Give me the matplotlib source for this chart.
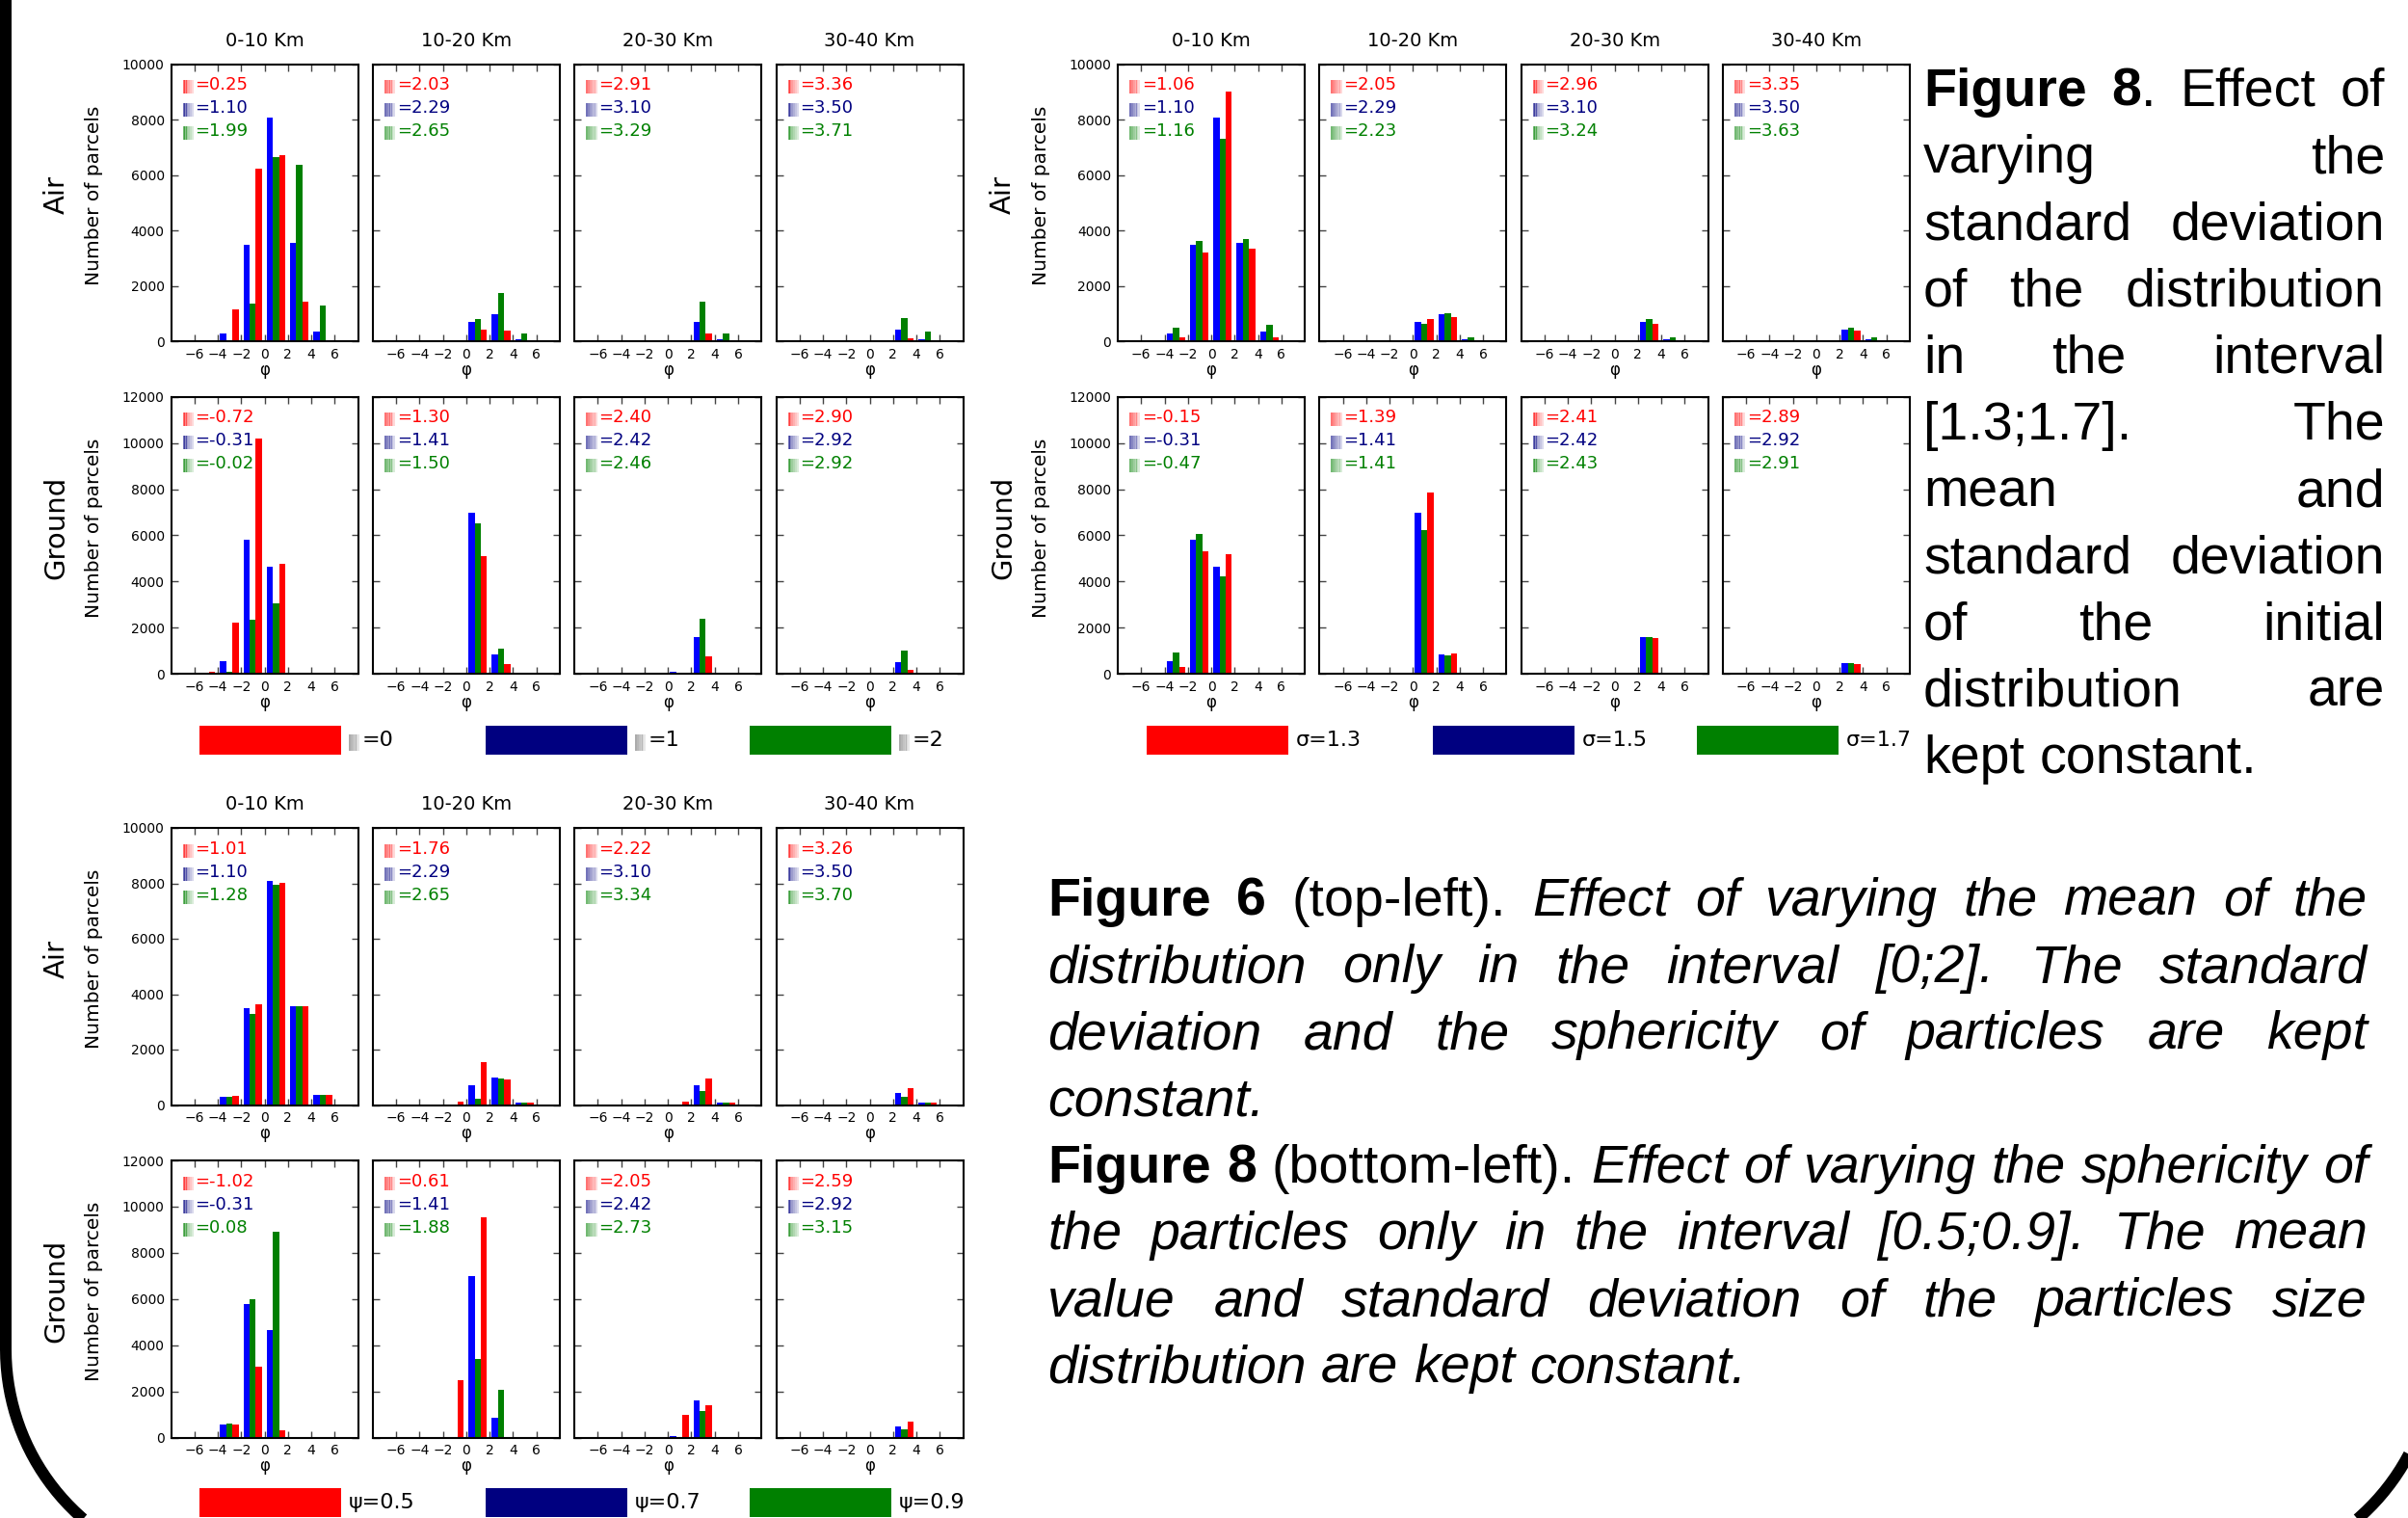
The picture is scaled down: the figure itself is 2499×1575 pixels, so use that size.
import numpy as np
import matplotlib
matplotlib.use("Agg")
import matplotlib.pyplot as plt
from matplotlib.patches import Rectangle, PathPatch
from matplotlib.path import Path
from matplotlib.transforms import IdentityTransform

W, H = 2499, 1575

phi_bins = [-6, -4, -2, 0, 2, 4, 6]
ranges = ["0-10 Km", "10-20 Km", "20-30 Km", "30-40 Km"]

# ---- varying mean (top-left) ----
mu_air_red = [[50, 1150, 6250, 6730, 1440, 40, 0], [0, 0, 0, 430, 400, 20, 0],
              [0, 0, 0, 0, 290, 0, 0], [0, 0, 0, 0, 115, 0, 0]]
mu_air_blue = [[0, 290, 3500, 8090, 3560, 360, 0], [0, 0, 0, 720, 990, 80, 0],
               [0, 0, 0, 0, 720, 80, 0], [0, 0, 0, 0, 440, 80, 0]]
mu_air_green = [[0, 30, 1370, 6660, 6380, 1300, 50], [0, 0, 0, 800, 1730, 290, 0],
                [0, 0, 0, 0, 1450, 290, 0], [0, 0, 0, 0, 850, 340, 0]]
mu_gnd_red = [[110, 2200, 10190, 4780, 0, 0, 0], [0, 0, 0, 5100, 445, 0, 0],
              [0, 0, 0, 0, 740, 0, 0], [0, 0, 0, 0, 195, 0, 0]]
mu_gnd_blue = [[0, 570, 5790, 4660, 0, 0, 0], [0, 0, 0, 6980, 850, 0, 0],
               [0, 0, 0, 80, 1600, 0, 0], [0, 0, 0, 0, 490, 0, 0]]
mu_gnd_green = [[0, 110, 2350, 3060, 0, 0, 0], [0, 0, 0, 6540, 1110, 0, 0],
                [0, 0, 0, 55, 2390, 0, 0], [0, 0, 0, 0, 990, 0, 0]]
mu_air_means = [["0.25", "1.10", "1.99"], ["2.03", "2.29", "2.65"],
                ["2.91", "3.10", "3.29"], ["3.36", "3.50", "3.71"]]
mu_gnd_means = [["-0.72", "-0.31", "-0.02"], ["1.30", "1.41", "1.50"],
                ["2.40", "2.42", "2.46"], ["2.90", "2.92", "2.92"]]
mu_labels = ["=0", "=1", "=2"]

# ---- varying sigma (top-right) ----
sd_air_red = [[0, 160, 3210, 9030, 3330, 150, 0], [0, 0, 0, 810, 880, 40, 0],
              [0, 0, 0, 0, 640, 40, 0], [0, 0, 0, 0, 400, 40, 0]]
sd_air_blue = [[0, 290, 3490, 8090, 3550, 360, 0], [0, 0, 0, 710, 990, 80, 0],
               [0, 0, 0, 0, 710, 80, 0], [0, 0, 0, 0, 430, 80, 0]]
sd_air_green = [[0, 500, 3630, 7300, 3690, 600, 0], [0, 0, 0, 640, 1030, 130, 0],
                [0, 0, 0, 0, 790, 160, 0], [0, 0, 0, 0, 480, 160, 0]]
sd_gnd_red = [[0, 280, 5330, 5200, 0, 0, 0], [0, 0, 0, 7870, 900, 0, 0],
              [0, 0, 0, 55, 1560, 0, 0], [0, 0, 0, 0, 430, 0, 0]]
sd_gnd_blue = [[0, 570, 5790, 4660, 0, 0, 0], [0, 0, 0, 6980, 860, 0, 0],
               [0, 0, 0, 70, 1600, 0, 0], [0, 0, 0, 0, 470, 0, 0]]
sd_gnd_green = [[0, 945, 6040, 4240, 0, 0, 0], [0, 0, 0, 6230, 810, 0, 0],
                [0, 0, 0, 70, 1600, 0, 0], [0, 0, 0, 0, 470, 0, 0]]
sd_air_means = [["1.06", "1.10", "1.16"], ["2.05", "2.29", "2.23"],
                ["2.96", "3.10", "3.24"], ["3.35", "3.50", "3.63"]]
sd_gnd_means = [["-0.15", "-0.31", "-0.47"], ["1.39", "1.41", "1.41"],
                ["2.41", "2.42", "2.43"], ["2.89", "2.92", "2.91"]]
sd_labels = ["σ=1.3", "σ=1.5", "σ=1.7"]

# ---- varying sphericity (bottom-left) ----
ps_air_red = [[0, 340, 3640, 8020, 3570, 370, 0], [0, 0, 130, 1550, 930, 90, 0],
              [0, 0, 0, 130, 960, 90, 0], [0, 0, 0, 0, 610, 90, 0]]
ps_air_blue = [[0, 300, 3510, 8090, 3570, 370, 0], [0, 0, 0, 720, 1000, 90, 0],
               [0, 0, 0, 0, 720, 90, 0], [0, 0, 0, 0, 440, 90, 0]]
ps_air_green = [[0, 300, 3290, 7950, 3570, 370, 0], [0, 0, 0, 230, 960, 90, 0],
                [0, 0, 0, 0, 510, 90, 0], [0, 0, 0, 0, 300, 90, 0]]
ps_gnd_red = [[0, 570, 3070, 320, 0, 0, 0], [0, 0, 2490, 9540, 0, 0, 0],
              [0, 0, 0, 990, 1400, 0, 0], [0, 0, 0, 0, 700, 0, 0]]
ps_gnd_blue = [[0, 570, 5790, 4660, 0, 0, 0], [0, 0, 0, 7000, 860, 0, 0],
               [0, 0, 0, 70, 1610, 0, 0], [0, 0, 0, 0, 490, 0, 0]]
ps_gnd_green = [[0, 610, 5990, 8920, 0, 0, 0], [0, 0, 0, 3410, 2060, 0, 0],
                [0, 0, 0, 0, 1150, 0, 0], [0, 0, 0, 0, 360, 0, 0]]
ps_air_means = [["1.01", "1.10", "1.28"], ["1.76", "2.29", "2.65"],
                ["2.22", "3.10", "3.34"], ["3.26", "3.50", "3.70"]]
ps_gnd_means = [["-1.02", "-0.31", "0.08"], ["0.61", "1.41", "1.88"],
                ["2.05", "2.42", "2.73"], ["2.59", "2.92", "3.15"]]
ps_labels = ["ψ=0.5", "ψ=0.7", "ψ=0.9"]

bar_colors = {"red": "#ff0000", "blue": "#0000ff", "green": "#008000"}
text_colors = ["red", "navy", "green"]
legend_colors = ["#ff0000", "#000080", "#008000"]

fig = plt.figure(figsize=(W / 100, H / 100), dpi=100)
fig.patch.set_facecolor("white")


def fx(x):
    return x / W


def fy(y):
    return 1 - y / H


def px_box(x0, y0, x1, y1):
    return [x0 / W, 1 - y1 / H, (x1 - x0) / W, (y1 - y0) / H]


def glyph(x, yc, color, w=11, h=14):
    # the missing-glyph box drawn in front of the labels
    n = 6
    for k in range(n):
        r = Rectangle((x + k * w / n, H - yc - h / 2), w / n + 0.3, h,
                      transform=IdentityTransform(), color=color,
                      alpha=0.55 - 0.08 * k, lw=0)
        fig.add_artist(r)


def draw_group(x0, top, air, gnd, air_means, gnd_means):
    col_step, aw, ah, row_step = 209.3, 194, 287.5, 345
    e = np.array(phi_bins)
    for r, (series, means, ymax, name) in enumerate(
            [(air, air_means, 10000, "Air"), (gnd, gnd_means, 12000, "Ground")]):
        yt = top + r * row_step
        for c in range(4):
            left = x0 + c * col_step
            ax = fig.add_axes(px_box(left, yt, left + aw, yt + ah))
            red, blue, green = series[0][c], series[1][c], series[2][c]
            ax.bar(e + 0.18, blue, 0.53, align="edge", color=bar_colors["blue"], lw=0)
            ax.bar(e + 0.71, green, 0.53, align="edge", color=bar_colors["green"], lw=0)
            ax.bar(e + 1.24, red, 0.53, align="edge", color=bar_colors["red"], lw=0)
            ax.set_xlim(-8, 8)
            ax.set_ylim(0, ymax)
            ax.set_xticks(range(-6, 7, 2))
            ax.set_yticks(range(0, ymax + 1, 2000))
            ax.tick_params(direction="in", top=True, right=True, length=5, width=1,
                           labelsize=10, color="#444444", pad=5)
            for s in ax.spines.values():
                s.set_linewidth(1.5)
            if c > 0:
                ax.set_yticklabels([])
            ax.set_xlabel("φ", fontsize=12, labelpad=0)
            if r == 0:
                ax.set_title(ranges[c], fontsize=14, pad=13.5)
            for k, frac in enumerate([0.925, 0.841, 0.758]):
                ax.text(0.128, frac, "=" + means[c][k], transform=ax.transAxes,
                        color=text_colors[k], fontsize=13, va="center", ha="left")
                yc = yt + ah * (1 - frac) + 2
                glyph(left + 12, yc, text_colors[k])
        cy = yt + ah / 2 - 8
        fig.text(fx(x0 - 119), fy(cy), name, rotation=90, fontsize=21,
                 ha="center", va="center")
        fig.text(fx(x0 - 80), fy(cy), "Number of parcels", rotation=90,
                 fontsize=14.5, ha="center", va="center")


def draw_legend(labels, xs, ytop, with_glyph):
    for k, (lab, x) in enumerate(zip(labels, xs)):
        fig.add_artist(Rectangle((fx(x), fy(ytop + 30)), 147 / W, 30 / H,
                                 transform=fig.transFigure,
                                 color=legend_colors[k], lw=0))
        tx = x + 155
        if with_glyph:
            glyph(tx, ytop + 17, "#666666", w=11, h=17)
            tx += 14
        fig.text(fx(tx), fy(ytop + 15), lab, fontsize=16, ha="left", va="center")


draw_group(177.6, 66.7, [mu_air_red, mu_air_blue, mu_air_green],
           [mu_gnd_red, mu_gnd_blue, mu_gnd_green], mu_air_means, mu_gnd_means)
draw_group(1160, 66.7, [sd_air_red, sd_air_blue, sd_air_green],
           [sd_gnd_red, sd_gnd_blue, sd_gnd_green], sd_air_means, sd_gnd_means)
draw_group(177.6, 859, [ps_air_red, ps_air_blue, ps_air_green],
           [ps_gnd_red, ps_gnd_blue, ps_gnd_green], ps_air_means, ps_gnd_means)

draw_legend(mu_labels, [207, 504, 778], 753, True)
draw_legend(sd_labels, [1190, 1487, 1761], 753, False)
draw_legend(ps_labels, [207, 504, 778], 1544, False)

# ---- captions (justified text) ----
right_caption = [
    ([("Figure 8", "b"), (". Effect of", "n")], True),
    ([("varying the", "n")], True),
    ([("standard deviation", "n")], True),
    ([("of the distribution", "n")], True),
    ([("in the interval", "n")], True),
    ([("[1.3;1.7]. The", "n")], True),
    ([("mean and", "n")], True),
    ([("standard deviation", "n")], True),
    ([("of the initial", "n")], True),
    ([("distribution are", "n")], True),
    ([("kept constant.", "n")], False),
]
bottom_caption = [
    ([("Figure 6", "b"), (" (top-left). ", "n"), ("Effect of varying the mean of the", "i")], True),
    ([("distribution only in the interval [0;2]. The standard", "i")], True),
    ([("deviation and the sphericity of particles are kept", "i")], True),
    ([("constant.", "i")], False),
    ([("Figure 8", "b"), (" (bottom-left). ", "n"), ("Effect of varying the sphericity of", "i")], True),
    ([("the particles only in the interval [0.5;0.9]. The mean", "i")], True),
    ([("value and standard deviation of the particles size", "i")], True),
    ([("distribution are kept constant.", "i")], False),
]


def split_words(segs):
    words = []
    new_word = True
    for txt, st in segs:
        for k, p in enumerate(txt.split(" ")):
            if k > 0:
                new_word = True
            if p == "":
                continue
            if new_word or not words:
                words.append([(p, st)])
            else:
                words[-1].append((p, st))
            new_word = False
    return words


def draw_paragraph(lines, left, right, base0, step, size):
    rend = fig.canvas.get_renderer()
    space = size * 100 / 72 * 0.278
    for i, (segs, justify) in enumerate(lines):
        y = base0 + i * step
        words = split_words(segs)
        placed, widths = [], []
        for word in words:
            parts, tot = [], 0
            for txt, st in word:
                t = fig.text(0, fy(y), txt, fontsize=size, family="Liberation Sans",
                             fontweight="bold" if st == "b" else "normal",
                             fontstyle="italic" if st == "i" else "normal",
                             ha="left", va="baseline")
                wpx = t.get_window_extent(rend).width
                parts.append((t, wpx))
                tot += wpx
            placed.append(parts)
            widths.append(tot)
        gap = (right - left - sum(widths)) / (len(words) - 1) if justify and len(words) > 1 else space
        x = left
        for parts in placed:
            for t, wpx in parts:
                t.set_x(fx(x))
                x += wpx
            x += gap


draw_paragraph(right_caption, 1996, 2475, 110, 69.2, 40)
draw_paragraph(bottom_caption, 1087, 2457, 950, 69.2, 40)

# poster frame: left edge plus rounded bottom corners (pixel coords, y up)
fl, fr, fb, rad = 6, 2527, -58, 233
a1 = np.linspace(np.pi, 1.5 * np.pi, 40)
a2 = np.linspace(1.5 * np.pi, 2 * np.pi, 40)
pts = [(fl, H + 50)]
pts += [(fl + rad + rad * np.cos(a), fb + rad + rad * np.sin(a)) for a in a1]
pts += [(fr - rad + rad * np.cos(a), fb + rad + rad * np.sin(a)) for a in a2]
pts += [(fr, H + 50)]
frame = PathPatch(Path(pts), transform=IdentityTransform(), fill=False,
                  lw=12 * 0.72, ec="black", capstyle="butt", joinstyle="round")
fig.add_artist(frame)

fig.savefig("out.png", dpi=100)
